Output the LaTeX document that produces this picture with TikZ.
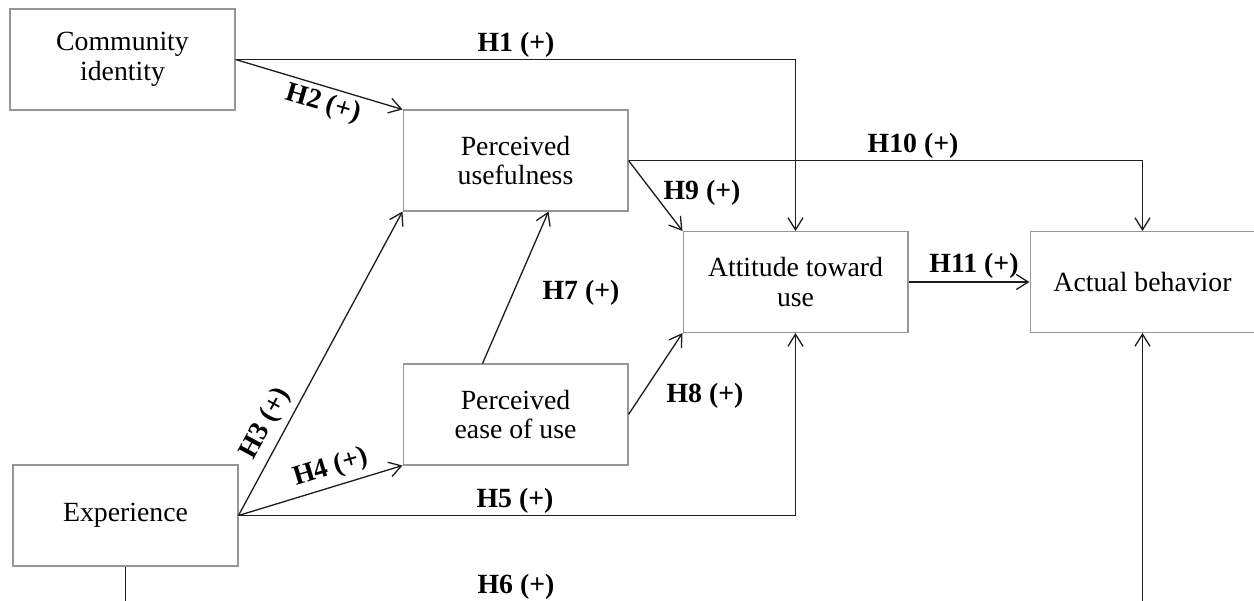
\documentclass[tikz,border=0pt]{standalone}
\usepackage{fontspec}
\setmainfont{Liberation Serif}
\usetikzlibrary{arrows.meta}
\definecolor{boxgray}{RGB}{150,150,150}
\definecolor{linedark}{RGB}{30,30,30}

\begin{document}
\begin{tikzpicture}[
    x=0.02cm, y=-0.02cm,
    box/.style={rectangle, draw=boxgray, line width=0.6pt, minimum width=4.5cm, minimum height=2.02cm, inner sep=0pt, align=center, font=\fontsize{15.8pt}{17pt}\selectfont},
    arrow/.style={-{Straight Barb[length=0.24cm, width=0.3cm]}, draw=linedark, line width=0.75pt},
    plain/.style={draw=linedark, line width=0.75pt},
    hyp/.style={font=\fontsize{15.8pt}{17pt}\selectfont\bfseries, inner sep=0pt}
]
\useasboundingbox (0,0) rectangle (1254,601);
\clip (0,0) rectangle (1254,601);

% Constructs
\node[box] (comm) at (122.5,59.5) {Community\\identity};
\node[box] (pu) at (515.5,160.5) {Perceived\\usefulness};
\node[box] (pe) at (515.5,414.5) {Perceived\\ease of use};
\node[box] (exp) at (125.5,515.5) {Experience};
\node[box] (att) at (795.5,282) {Attitude toward\\use};
\node[box] (act) at (1142.5,282) {Actual behavior};

% helper below the visible area
\coordinate (low) at (0,640);

% Arrows
\draw[arrow] (comm.east) -| (att.north);
\draw[arrow] (comm.east) -- (pu.north west);
\draw[arrow] (pu.east) -| (act.north);
\draw[arrow] (pu.east) -- (att.north west);
\draw[arrow] ([xshift=-0.66cm]pe.north) -- ([xshift=0.66cm]pu.south);
\draw[arrow] (pe.east) -- (att.south west);
\draw[arrow] (exp.east) -- (pu.south west);
\draw[arrow] (exp.east) -- (pe.south west);
\draw[arrow] (exp.east) -| (att.south);
\draw[arrow] (exp.south) -- (exp.south |- low) -| (act.south);
\draw[arrow] (att.east) -- (act.west);

% Hypothesis labels
\node[hyp, anchor=base] (h1) at (516,52) {H1 (+)};
\node[hyp, rotate=-16.6] (h2) at (323,104) {H2 (+)};
\node[hyp, rotate=61.5] (h3) at (266,424) {H3 (+)};
\node[hyp, rotate=16.9] (h4) at (331,468) {H4 (+)};
\node[hyp, anchor=base] (h5) at (515,507) {H5 (+)};
\node[hyp, anchor=base] (h6) at (516,593) {H6 (+)};
\node[hyp, anchor=base] (h7) at (581,299) {H7 (+)};
\node[hyp, anchor=base] (h8) at (705,402) {H8 (+)};
\node[hyp, anchor=base] (h9) at (702,200) {H9 (+)};
\node[hyp, anchor=base] (h10) at (913,153) {H10 (+)};
\node[hyp, anchor=base] (h11) at (974,273) {H11 (+)};

\end{tikzpicture}
\end{document}
